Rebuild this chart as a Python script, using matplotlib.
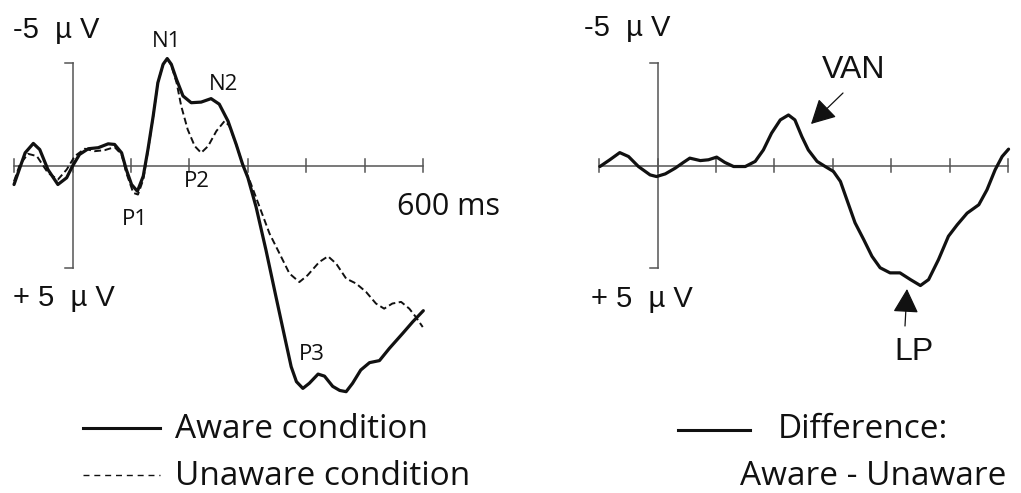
import matplotlib
matplotlib.use("Agg")
import matplotlib.pyplot as plt
from matplotlib.lines import Line2D
from matplotlib.patches import FancyArrowPatch

# ---------------- data (ms, µV; negative plotted upward) ----------------
aware_t = [-100, -90, -81, -67, -56, -42, -25, -10, 0, 12, 27, 44, 61, 72, 84, 92,
           101, 111, 121, 129, 138, 146, 155, 162, 169, 178, 189, 203, 220, 237, 251,
           266, 280, 291, 300, 314, 331, 348, 363, 374, 383, 394, 405, 420, 431, 445,
           457, 468, 479, 493, 508, 525, 542, 565, 582, 600]
aware_v = [0.93, 0.11, -0.62, -1.08, -0.78, 0.2, 0.93, 0.6, 0.03, -0.54, -0.82, -0.87,
           -1.06, -1.03, -0.62, 0.2, 0.93, 1.26, 0.52, -0.78, -2.42, -4.05, -4.95, -5.23,
           -4.95, -4.2, -3.4, -3.07, -3.1, -3.27, -3.0, -2.17, -1.03, -0.05, 0.6, 2.03,
           4.15, 6.42, 8.4, 9.84, 10.57, 10.9, 10.65, 10.2, 10.3, 10.8, 11.0, 11.06,
           10.65, 10.0, 9.64, 9.54, 8.94, 8.2, 7.64, 7.1]

unaware_t = [-100, -90, -76, -61, -42, -25, -10, 4, 21, 38, 55, 72, 84, 92, 104, 112,
             121, 129, 138, 146, 155, 162, 169, 178, 186, 197, 209, 220, 232, 246, 260,
             268, 280, 291, 303, 320, 337, 354, 371, 388, 402, 422, 437, 451, 468, 485,
             502, 519, 533, 547, 562, 576, 587, 599]
unaware_v = [0.77, -0.05, -0.57, -0.46, 0.36, 0.69, 0.2, -0.46, -0.82, -0.7, -0.75, -0.9,
             -0.54, 0.36, 1.34, 1.42, 0.69, -0.7, -2.4, -4.05, -4.95, -5.23, -4.9, -4.05,
             -2.9, -1.76, -0.95, -0.62, -0.95, -1.68, -2.17, -1.95, -1.03, -0.05, 0.73,
             2.03, 3.33, 4.3, 5.28, 5.7, 5.37, 4.72, 4.44, 4.8, 5.53, 5.77, 6.18, 6.75,
             7.0, 6.75, 6.67, 7.0, 7.4, 7.9]

diff_t = [-99, -82, -65, -50, -33, -13, -2, 13, 30, 44, 55, 73, 87, 101, 115, 130, 150,
          167, 181, 195, 210, 224, 235, 247, 258, 273, 287, 301, 313, 324, 338, 353, 367,
          381, 398, 415, 433, 450, 464, 481, 498, 513, 530, 550, 564, 578, 590, 601]
diff_v = [0.05, -0.28, -0.63, -0.44, 0.05, 0.46, 0.54, 0.41, 0.13, -0.15, -0.36, -0.24,
          -0.28, -0.41, -0.15, 0.05, 0.05, -0.2, -0.76, -1.58, -2.23, -2.47, -2.23, -1.41,
          -0.76, -0.2, 0.05, 0.29, 0.78, 1.67, 2.8, 3.63, 4.44, 5.0, 5.25, 5.25, 5.58,
          5.87, 5.58, 4.6, 3.46, 2.9, 2.33, 1.92, 1.19, 0.21, -0.44, -0.8]

x_ticks = [-100, 0, 100, 200, 300, 400, 500, 600]
y_range = [-5, 5]
peak_labels = ["N1", "N2", "P1", "P2", "P3"]

# ---------------- figure ----------------
W, H = 1021, 493
fig = plt.figure(figsize=(W / 100, H / 100), dpi=100)
fig.patch.set_facecolor("white")


def fx(px):
    return px / W


def fy(py):
    return 1 - py / H


def make_axes(px0, px1, x0px, ms_per_px_inv, y0px, px_per_uv):
    ax = fig.add_axes([fx(px0), 0, (px1 - px0) / W, 1])
    ax.set_xlim((px0 - x0px) / ms_per_px_inv, (px1 - x0px) / ms_per_px_inv)
    ax.set_ylim((H - y0px) / px_per_uv, (0 - y0px) / px_per_uv)
    ax.axis("off")
    return ax


AX_COL = "#555555"
CURVE_COL = "#111111"


def draw_frame(ax):
    ax.plot([x_ticks[0], x_ticks[-1]], [0, 0], color=AX_COL, lw=1.1, zorder=1)
    for t in x_ticks:
        ax.plot([t, t], [-0.33, 0.33], color=AX_COL, lw=1.1, zorder=1)
    ax.plot([0, 0], y_range, color=AX_COL, lw=1.1, zorder=1)
    for yv in y_range:
        ax.plot([-13, 0], [yv, yv], color=AX_COL, lw=1.1, zorder=1)


axL = make_axes(0, 530, 72.5, 0.5847, 165.5, 20.45)
axR = make_axes(530, 1021, 657.7, 0.5838, 165.5, 20.45)

draw_frame(axL)
draw_frame(axR)

axL.plot(unaware_t, unaware_v, color=CURVE_COL, lw=1.4, dashes=(3.5, 1.8), zorder=2)
axL.plot(aware_t, aware_v, color=CURVE_COL, lw=2.3, solid_joinstyle="round",
         solid_capstyle="round", zorder=3)
axR.plot(diff_t, diff_v, color=CURVE_COL, lw=2.3, solid_joinstyle="round",
         solid_capstyle="round", zorder=3)

ARIAL = "Liberation Sans"
HUMAN = "Open Sans"


def ftext(x, y, s, size, family, ha="left"):
    fig.text(fx(x), fy(y), s, ha=ha, va="baseline", fontsize=size, family=family,
             color="#111111")


# voltage scale labels
ftext(13, 38, "-5  µ V", 21, ARIAL)
ftext(13, 306, "+ 5  µ V", 21, ARIAL)
ftext(584, 36, "-5  µ V", 21, ARIAL)
ftext(591, 307, "+ 5  µ V", 21, ARIAL)

# component labels
ftext(152, 47, peak_labels[0], 16, HUMAN)
ftext(209, 90, peak_labels[1], 16, HUMAN)
ftext(122, 225, peak_labels[2], 16, HUMAN)
ftext(184, 187, peak_labels[3], 16, HUMAN)
ftext(299, 360, peak_labels[4], 16, HUMAN)
ftext(397, 215, "600 ms", 22, HUMAN)

ftext(822, 78, "VAN", 23, ARIAL)
ftext(894, 360, "LP", 23, ARIAL)

# arrows
for (xa, ya), (xb, yb) in [((843, 93), (811, 124)), ((905, 326), (907, 289))]:
    fig.add_artist(FancyArrowPatch((fx(xa), fy(ya)), (fx(xb), fy(yb)),
                                   transform=fig.transFigure,
                                   arrowstyle="-|>,head_length=1.5,head_width=0.8",
                                   mutation_scale=10, shrinkA=0, shrinkB=0,
                                   color="#111111", lw=0.9))

# legends
fig.add_artist(Line2D([fx(83), fx(160)], [fy(428), fy(428)], color=CURVE_COL, lw=2.2,
                      transform=fig.transFigure))
fig.add_artist(Line2D([fx(83), fx(160)], [fy(475), fy(475)], color=CURVE_COL, lw=1.0,
                      dashes=(4.3, 3.5), transform=fig.transFigure))
fig.add_artist(Line2D([fx(678), fx(750)], [fy(430), fy(430)], color=CURVE_COL, lw=2.2,
                      transform=fig.transFigure))
ftext(175, 438, "Aware condition", 24, HUMAN)
ftext(175, 485, "Unaware condition", 24, HUMAN)
ftext(778, 438, "Difference:", 24, HUMAN)
ftext(740, 485, "Aware - Unaware", 24, HUMAN)

fig.savefig("out.png", dpi=100, facecolor="white")
